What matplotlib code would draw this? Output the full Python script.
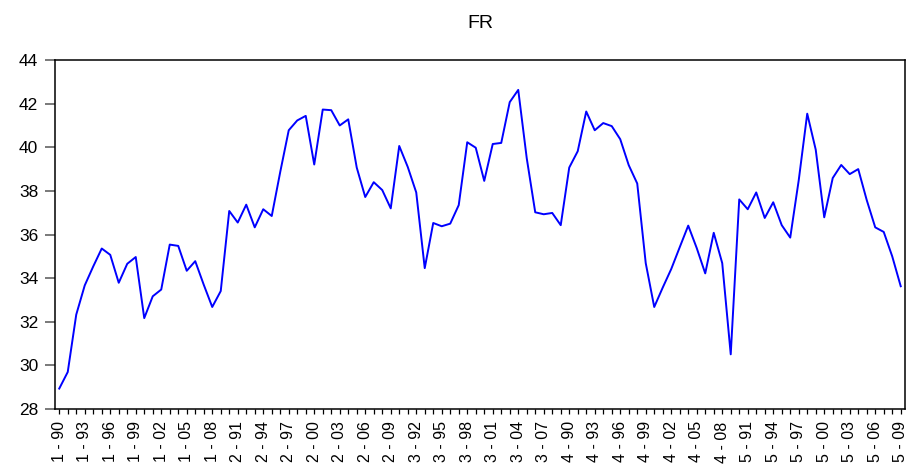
import numpy as np
import matplotlib
matplotlib.use("Agg")
import matplotlib.pyplot as plt

plt.rcParams['font.family'] = ['Liberation Sans', 'DejaVu Sans']

# panel: 5 cross-sections, years 1990-2009
groups = [1, 2, 3, 4, 5]
years = list(range(1990, 2010))

fr_1 = [28.94, 29.70, 32.33, 33.67, 34.54, 35.36, 35.07, 33.79, 34.66, 34.97,
        32.17, 33.17, 33.48, 35.54, 35.48, 34.34, 34.78, 33.70, 32.68, 33.41]
fr_2 = [37.08, 36.55, 37.37, 36.33, 37.16, 36.85, 38.87, 40.78, 41.23, 41.44,
        39.21, 41.73, 41.70, 41.00, 41.28, 39.07, 37.72, 38.40, 38.04, 37.20]
fr_3 = [40.06, 39.10, 37.93, 34.46, 36.53, 36.38, 36.50, 37.35, 40.23, 39.98,
        38.46, 40.15, 40.20, 42.07, 42.63, 39.50, 37.02, 36.93, 36.99, 36.43]
fr_4 = [39.07, 39.82, 41.64, 40.78, 41.11, 40.97, 40.37, 39.18, 38.34, 34.69,
        32.68, 33.57, 34.42, 35.42, 36.41, 35.38, 34.22, 36.08, 34.69, 30.51]
fr_5 = [37.61, 37.16, 37.93, 36.76, 37.48, 36.43, 35.86, 38.49, 41.54, 39.89,
        36.79, 38.59, 39.19, 38.77, 39.00, 37.58, 36.33, 36.12, 35.00, 33.63]

fr = fr_1 + fr_2 + fr_3 + fr_4 + fr_5
labels = [f"{g} - {y % 100:02d}" for g in groups for y in years]
x = np.arange(len(fr))

fig = plt.figure(figsize=(9.12, 4.67), dpi=100)
ax = fig.add_axes([0.0603, 0.124, 0.932, 0.7475])

ax.plot(x, fr, color='#0000ff', lw=1.4)

ax.set_xlim(-0.5, len(fr) - 0.5)
ax.set_ylim(28, 44)
ax.set_yticks(np.arange(28, 45, 2))
ax.set_xticks(x)
ax.set_xticklabels([lab if i % 3 == 0 else '' for i, lab in enumerate(labels)],
                   rotation=90, fontsize=11.5)

ax.tick_params(axis='y', direction='out', length=7, width=1.1, color='#555555',
               labelsize=12.5, pad=5)
ax.tick_params(axis='x', direction='out', length=3.8, width=0.9, color='black', pad=5)
for s in ax.spines.values():
    s.set_linewidth(1.1)

ax.set_title("FR", fontsize=14, pad=23)

fig.savefig("out.png", dpi=100)
